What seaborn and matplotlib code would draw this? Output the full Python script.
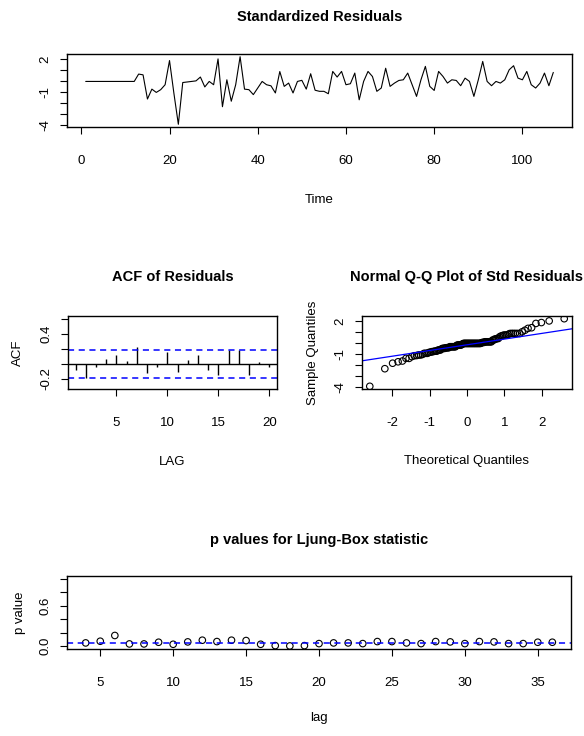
import numpy as np
import pandas as pd
import matplotlib
matplotlib.use("Agg")
import matplotlib.pyplot as plt
import seaborn as sns
from statistics import NormalDist

# standardized residuals (t = 1..107)
resid = [0, 0, 0, 0, 0, 0, 0, 0, 0, 0, 0, 0,
         0.67, 0.6, -1.6, -0.7, -1.0, -0.75, -0.3, 1.9, -1.1, -3.9,
         -0.1, -0.05, 0.0, 0.05, 0.4, -0.5, 0.0, -0.3, 2.05, -2.3,
         0.15, -1.8, -0.3, 2.25, -0.7, -0.75, -1.2, -0.6, 0.0, -0.3,
         -0.4, -1.05, 0.9, -0.45, -0.15, -1.05, 0.0, 0.1, -0.7, 0.7,
         -0.8, -0.9, -0.9, -1.12, 0.91, 0.4, 0.91, -0.3, -0.21, 0.76,
         -1.67, 0.0, 0.91, 0.45, -0.9, -0.6, 1.2, -0.45, -0.15, 0.09,
         0.15, 0.76, -0.3, -1.36, 0.15, 1.37, -0.45, -0.82, 0.91, 0.45,
         -0.15, 0.15, 0.09, -0.39, 0.3, 0.0, -1.36, 0.15, 1.82, 0.0,
         -0.39, 0.0, -0.15, 0.15, 1.06, 1.43, 0.3, 0.15, 0.91, -0.3,
         -0.6, -0.15, 0.76, -0.39, 0.82]
time = list(range(1, len(resid) + 1))

# ACF of residuals, lags 1..20
acf_lag = list(range(1, 21))
acf_val = [-0.083, -0.196, -0.04, 0.057, 0.113, 0.035, 0.222, -0.118, -0.04, 0.153,
           -0.105, 0.052, 0.113, -0.078, -0.144, 0.187, 0.187, -0.144, 0.03, -0.04]

# Ljung-Box p values, lags 4..36
lb_lag = list(range(4, 37))
lb_p = [0.05, 0.075, 0.16, 0.035, 0.035, 0.06, 0.03, 0.065, 0.09, 0.07, 0.09,
        0.085, 0.03, 0.01, 0.005, 0.01, 0.04, 0.05, 0.05, 0.04, 0.07, 0.07,
        0.05, 0.04, 0.07, 0.065, 0.04, 0.07, 0.065, 0.04, 0.04, 0.06, 0.06]

sns.set_theme(style="white")
narrow = ['Liberation Sans Narrow', 'Liberation Sans', 'DejaVu Sans']
regular = ['Liberation Sans', 'DejaVu Sans']
plt.rcParams['font.family'] = narrow
plt.rcParams['axes.unicode_minus'] = False
plt.rcParams['axes.edgecolor'] = 'black'
plt.rcParams['axes.linewidth'] = 1.0
plt.rcParams['text.color'] = 'black'
plt.rcParams['axes.labelcolor'] = 'black'
plt.rcParams['xtick.color'] = 'black'
plt.rcParams['ytick.color'] = 'black'

W, H = 584, 736
fig = plt.figure(figsize=(W / 100, H / 100), dpi=100)


def add_ax(left, top, right, bottom):
    return fig.add_axes([left / W, 1 - bottom / H, (right - left) / W, (bottom - top) / H])


def rlim(lo, hi):
    pad = (hi - lo) * 0.04
    return lo - pad, hi + pad


def style(ax, xticks, yticks, ylabels):
    ax.set_xticks(xticks)
    ax.set_yticks(yticks)
    ax.set_yticklabels([lab if lab in ylabels else '' for lab in
                        [f"{v:g}" if not isinstance(v, float) else f"{v:.1f}" for v in yticks]])
    ax.tick_params(axis='both', direction='out', length=5, width=0.8, colors='black',
                   labelsize=9.5, left=True, bottom=True)
    ax.tick_params(axis='x', pad=15)
    ax.tick_params(axis='y', pad=6, labelrotation=90)
    for lab in ax.get_yticklabels():
        lab.set_va('center')
    for s in ax.spines.values():
        s.set_color('black')
        s.set_linewidth(1.0)


def title(ax, text, y):
    ax.set_title(text, y=y, pad=0, va='center', fontsize=10.5, fontweight='bold',
                 family=narrow, color='black')


# --- Standardized residuals
ax1 = add_ax(67, 54, 572, 127)
sns.lineplot(x=time, y=resid, ax=ax1, color='black', lw=0.8)
ax1.set_xlim(*rlim(min(time), max(time)))
ax1.set_ylim(*rlim(min(resid), max(resid)))
style(ax1, [0, 20, 40, 60, 80, 100], list(range(-4, 3)), ['2', '-1', '-4'])
title(ax1, 'Standardized Residuals', 1.507)
ax1.set_xlabel('Time', fontsize=9.5, family=narrow)
ax1.xaxis.set_label_coords(0.5, -1.0)
ax1.xaxis.label.set_va('center')
ax1.set_ylabel('')

# --- ACF of residuals
ax2 = add_ax(68, 316, 277, 389)
n = len(resid)
ax2.vlines(acf_lag, 0, acf_val, color='black', lw=1.0)
ax2.axhline(0, color='black', lw=1.0)
ci = 1.96 / np.sqrt(n)
for c in (ci, -ci):
    ax2.axhline(c, color='blue', lw=1.1, ls=(0, (4, 3)))
ax2.set_xlim(*rlim(1, 20))
ax2.set_ylim(*rlim(-0.3, 0.6))
style(ax2, [5, 10, 15, 20], [-0.2, 0.0, 0.2, 0.4, 0.6], ['0.4', '-0.2'])
title(ax2, 'ACF of Residuals', 1.532)
ax2.set_xlabel('LAG', fontsize=9.5, family=regular)
ax2.xaxis.set_label_coords(0.5, -1.0)
ax2.xaxis.label.set_va('center')
ax2.set_ylabel('ACF', fontsize=9.5, family=regular)
ax2.yaxis.set_label_coords(-0.238, 0.5)
ax2.yaxis.label.set_va('center')

# --- Normal Q-Q plot
ax3 = add_ax(362, 316, 572, 389)
srt = np.sort(resid)
theo = [NormalDist().inv_cdf((i - 0.5) / n) for i in range(1, n + 1)]
qq = pd.DataFrame({'theo': theo, 'sample': srt})
sns.scatterplot(data=qq, x='theo', y='sample', ax=ax3, marker='o', s=22,
                facecolors='none', edgecolor='black', linewidth=0.8)
q1, q3 = np.percentile(resid, [25, 75])
z1, z3 = NormalDist().inv_cdf(0.25), NormalDist().inv_cdf(0.75)
slope = (q3 - q1) / (z3 - z1)
ax3.axline((z1, q1), slope=slope, color='blue', lw=0.9)
ax3.set_xlim(*rlim(min(theo), max(theo)))
ax3.set_ylim(*rlim(min(resid), max(resid)))
style(ax3, [-2, -1, 0, 1, 2], list(range(-4, 3)), ['2', '-1', '-4'])
title(ax3, 'Normal Q-Q Plot of Std Residuals', 1.532)
ax3.set_xlabel('Theoretical Quantiles', fontsize=9.5, family=narrow)
ax3.xaxis.set_label_coords(0.5, -0.98)
ax3.xaxis.label.set_va('center')
ax3.set_ylabel('Sample Quantiles', fontsize=9.5, family=regular)
ax3.yaxis.set_label_coords(-0.233, 0.5)
ax3.yaxis.label.set_va('center')

# --- Ljung-Box p values
ax4 = add_ax(67, 576, 571, 649)
lb = pd.DataFrame({'lag': lb_lag, 'p': lb_p})
sns.scatterplot(data=lb, x='lag', y='p', ax=ax4, marker='o', s=22,
                facecolors='none', edgecolor='black', linewidth=0.8)
ax4.axhline(0.05, color='blue', lw=1.1, ls=(0, (4, 3)))
ax4.set_xlim(*rlim(min(lb_lag), max(lb_lag)))
ax4.set_ylim(*rlim(0, 1))
style(ax4, [5, 10, 15, 20, 25, 30, 35], [0.0, 0.2, 0.4, 0.6, 0.8, 1.0], ['0.0', '0.6'])
title(ax4, 'p values for Ljung-Box statistic', 1.49)
ax4.set_xlabel('lag', fontsize=9.5, family=narrow)
ax4.xaxis.set_label_coords(0.5, -0.94)
ax4.xaxis.label.set_va('center')
ax4.set_ylabel('p value', fontsize=9.5, family=regular)
ax4.yaxis.set_label_coords(-0.094, 0.5)
ax4.yaxis.label.set_va('center')

fig.savefig('out.png', dpi=100, facecolor='white')
